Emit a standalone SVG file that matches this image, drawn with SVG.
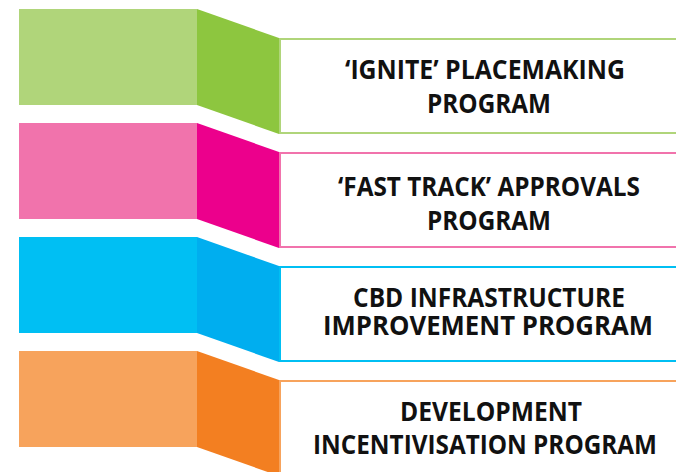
<svg xmlns="http://www.w3.org/2000/svg" width="676" height="472" viewBox="0 0 676 472">
<style>
.t{font-family:"Open Sans","Liberation Sans",sans-serif;font-weight:700;font-size:26px;fill:#111;text-anchor:middle}
.box{fill:#fff;stroke-width:2}
</style>
<rect width="676" height="472" fill="#fff"/>
<g id="ignite">
<rect x="19" y="9" width="178" height="96" fill="#B0D57A"/>
<polygon points="197,9 279,38 279,134 197,105" fill="#8DC63F"/>
<rect class="box" x="280" y="39" width="410" height="94" stroke="#B0D57A"/>
<text class="t" x="485" y="79" textLength="280" lengthAdjust="spacingAndGlyphs">‘IGNITE’ PLACEMAKING</text>
<text class="t" x="489" y="113" textLength="124" lengthAdjust="spacingAndGlyphs">PROGRAM</text>
</g>
<g id="fasttrack">
<rect x="19" y="123" width="178" height="96" fill="#F173AC"/>
<polygon points="197,123 279,152 279,248 197,219" fill="#EC008C"/>
<rect class="box" x="280" y="153" width="410" height="94" stroke="#F173AC"/>
<text class="t" x="489" y="196" textLength="302" lengthAdjust="spacingAndGlyphs">‘FAST TRACK’ APPROVALS</text>
<text class="t" x="489" y="230" textLength="124" lengthAdjust="spacingAndGlyphs">PROGRAM</text>
</g>
<g id="cbd">
<rect x="19" y="237" width="178" height="96" fill="#00BFF3"/>
<polygon points="197,237 279,266 279,362 197,333" fill="#00AEEF"/>
<rect class="box" x="280" y="267" width="410" height="94" stroke="#00BFF3"/>
<text class="t" x="489" y="307" textLength="272" lengthAdjust="spacingAndGlyphs">CBD INFRASTRUCTURE</text>
<text class="t" x="488" y="335" textLength="330" lengthAdjust="spacingAndGlyphs">IMPROVEMENT PROGRAM</text>
</g>
<g id="development">
<rect x="19" y="351" width="178" height="96" fill="#F7A35C"/>
<polygon points="197,351 279,380 279,476 197,447" fill="#F37F21"/>
<rect class="box" x="280" y="381" width="410" height="94" stroke="#F7A35C"/>
<text class="t" x="491" y="421" textLength="182" lengthAdjust="spacingAndGlyphs">DEVELOPMENT</text>
<text class="t" x="485" y="454" textLength="344" lengthAdjust="spacingAndGlyphs">INCENTIVISATION PROGRAM</text>
</g>
<g id="connectors"></g>
</svg>
